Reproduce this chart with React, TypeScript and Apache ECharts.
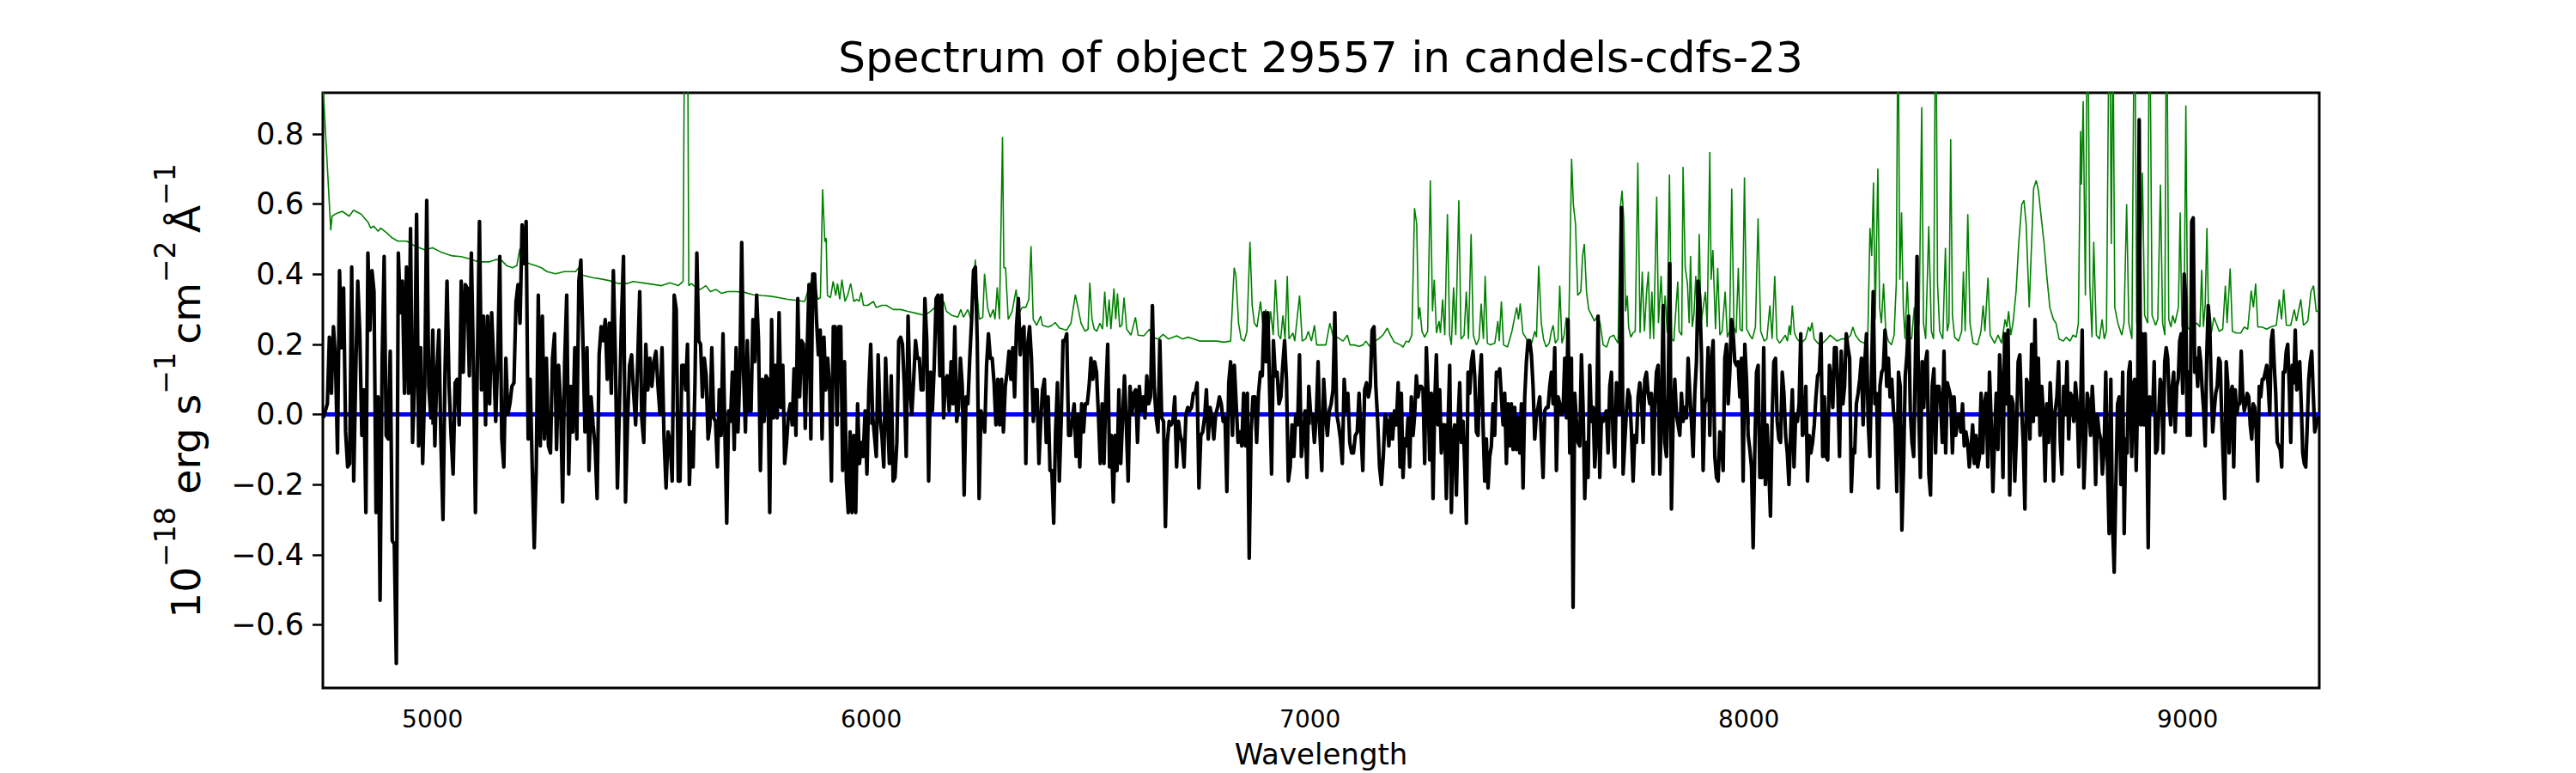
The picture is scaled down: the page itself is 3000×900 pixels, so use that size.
import React, { useEffect, useRef } from "react";
import * as echarts from "echarts";

// ---- Data ----
const titleText = "Spectrum of object 29557 in candels-cdfs-23";
const xTicks = [5000, 6000, 7000, 8000, 9000];
const yTicks = [-0.6, -0.4, -0.2, 0, 0.2, 0.4, 0.6, 0.8];
const xRange = [4750, 9300];
const yRange = [-0.78, 0.917];

// wavelength span of each stretch of the (regularly sampled) flux spectrum
const segWave = [
  [4751, 5560],
  [5564, 6382],
  [6386, 7205],
  [7208, 8025],
  [8030, 8848],
  [8852, 9300],
];

const fluxSeg1 = [
  -0.01, 0.01, 0.03, 0.22, 0.06, 0.25, 0.16, -0.11, 0.41, 0.19,
  0.36, -0.05, -0.15, -0.14, 0.42, -0.19, 0.12, 0.38, 0.23, -0.06,
  0.07, -0.28, 0.46, 0.24, 0.41, 0.35, -0.28, 0.05, -0.53, 0.15,
  0.45, -0.06, -0.07, 0.18, -0.36, -0.37, -0.71, 0.46, 0.29, 0.38,
  0.06, 0.42, 0.06, 0.53, -0.08, 0.09, 0.57, -0.09, 0.19, -0.14,
  0.08, 0.61, 0.08, -0.01, 0.24, -0.09, 0.12, 0.24, -0.08, -0.3,
  0.12, 0.38, 0.08, -0.06, -0.17, 0.09, 0.1, -0.03, 0.38, 0.12,
  0.37, 0.36, 0.11, 0.46, 0.15, -0.28, 0.17, 0.55, 0.07, 0.28,
  -0.03, 0.28, 0.03, 0.29, 0.15, -0.02, 0.16, 0.45, -0.07, -0.15,
  0.16, 0.0, 0.03, 0.08, 0.09, 0.32, 0.37, 0.26, 0.54, 0.43,
  0.55, -0.07, 0.1, -0.15, -0.38, -0.15, 0.34, -0.09, 0.28, -0.07,
  0.16, -0.09, -0.11, 0.16, 0.23, -0.1, 0.14, 0.03, -0.25, 0.15,
  0.34, -0.17, 0.08, -0.05, 0.19, -0.07, 0.38, 0.44, 0.21, -0.05,
  0.19, -0.16, 0.05, -0.03, -0.09, -0.24, 0.17, 0.25, 0.21, 0.27,
  0.1, 0.26, 0.06, 0.41, 0.16, -0.21, 0.02, 0.27, 0.45, -0.25,
  -0.02, 0.14, 0.17, 0.06, -0.03, 0.15, 0.35, -0.01, -0.08, 0.2,
  0.07, 0.16, 0.08, 0.15, 0.18, 0.08, 0.0, 0.19, -0.07, -0.21,
  -0.05, -0.08, -0.19, 0.34, 0.3, -0.19,
];

const fluxSeg2 = [
  -0.19, 0.14, 0.14, 0.07, 0.2, -0.2, -0.05, -0.15, 0.09, 0.46,
  0.21, 0.2, 0.05, 0.16, 0.11, -0.07, -0.03, 0.19, -0.01, -0.02,
  -0.15, 0.07, -0.06, 0.23, -0.05, -0.31, 0.01, -0.02, 0.12, -0.1,
  0.19, -0.05, 0.12, 0.49, 0.12, -0.05, 0.21, 0.01, 0.01, 0.27,
  0.15, 0.34, 0.21, -0.16, 0.1, -0.02, 0.11, 0.1, -0.28, 0.27,
  -0.01, 0.14, -0.01, 0.29, 0.02, 0.14, -0.14, -0.08, 0.0, 0.03,
  -0.03, 0.13, -0.06, 0.33, 0.05, 0.21, 0.2, -0.04, 0.18, 0.37,
  -0.07, 0.4, 0.4, 0.27, 0.17, 0.24, -0.07, 0.22, 0.07, 0.16,
  0.08, -0.19, 0.25, 0.25, -0.03, 0.25, 0.25, -0.16, 0.15, -0.19,
  -0.28, -0.05, -0.28, -0.06, -0.28, 0.03, -0.14, -0.08, -0.12, 0.01,
  -0.17, 0.07, 0.2, 0.0, -0.06, -0.12, 0.17, -0.01, -0.06, -0.15,
  0.16, -0.01, -0.14, 0.11, -0.19, -0.18, -0.08, 0.21, 0.22, 0.2,
  0.08, -0.12, 0.28, 0.07, 0.0, 0.1, 0.21, 0.16, 0.16, 0.07,
  0.07, 0.33, 0.21, -0.19, 0.12, 0.01, 0.14, 0.33, 0.34, 0.11,
  0.34, -0.01, 0.1, 0.11, 0.01, 0.15, 0.03, 0.25, -0.02, 0.02,
  0.16, 0.08, -0.23, 0.05, 0.03, 0.16, 0.27, 0.41, 0.42, 0.21,
  -0.24, 0.01, -0.01, -0.05, 0.14, 0.23, 0.16, 0.16, 0.09, -0.03,
  0.1, -0.03, 0.1, -0.05, 0.08, 0.12, 0.18, 0.1, 0.19, 0.05,
  0.25, 0.33, 0.17, 0.24, 0.25, -0.14, 0.2, 0.25, 0.16, -0.02,
  0.07, 0.07, -0.14,
];

const fluxSeg3 = [
  -0.02, 0.07, 0.1, -0.08, 0.05, -0.16, -0.16, -0.31, -0.05, 0.09,
  -0.19, -0.02, 0.21, 0.21, 0.23, -0.06, -0.06, -0.01, 0.03, -0.12,
  0.0, -0.15, 0.03, -0.05, 0.03, 0.03, 0.08, 0.16, 0.1, 0.15,
  0.12, 0.0, -0.14, 0.03, -0.14, 0.06, 0.2, -0.15, -0.06, -0.25,
  -0.06, -0.16, 0.07, -0.14, -0.01, 0.11, -0.03, -0.19, 0.08, 0.0,
  0.06, 0.07, -0.08, 0.08, 0.01, 0.05, -0.01, 0.11, 0.03, 0.05,
  0.31, 0.08, -0.01, -0.05, 0.21, -0.01, -0.02, -0.32, -0.08, -0.02,
  -0.03, -0.02, 0.05, -0.15, -0.02, -0.06, -0.08, -0.15, 0.0, 0.02,
  0.01, 0.02, 0.06, 0.06, 0.09, -0.21, -0.06, -0.05, -0.01, 0.07,
  -0.07, 0.02, -0.01, -0.07, 0.0, 0.02, 0.05, 0.03, -0.02, -0.01,
  -0.22, 0.09, 0.15, -0.06, 0.14, 0.03, -0.08, -0.05, -0.09, 0.06,
  -0.09, 0.06, -0.41, -0.05, 0.05, 0.05, -0.08, 0.06, 0.12, 0.11,
  0.29, 0.15, 0.29, 0.06, -0.17, 0.21, 0.11, 0.12, 0.03, 0.05,
  0.14, 0.21, 0.1, -0.19, -0.15, -0.03, -0.12, 0.0, -0.03, 0.17,
  -0.12, -0.07, 0.01, -0.18, 0.08, 0.0, 0.0, -0.08, -0.01, 0.15,
  -0.06, -0.16, 0.1, 0.0, -0.06, 0.01, 0.03, 0.07, 0.29, 0.0,
  -0.03, -0.07, -0.14, 0.1, 0.01, 0.06, -0.08, -0.11, -0.11, -0.06,
  -0.05, 0.06, -0.05, -0.16, 0.07, 0.09, 0.05, 0.08, 0.24, 0.25,
  0.08, -0.02, -0.15, -0.2, -0.12, 0.0, -0.02, -0.09, 0.0, -0.07,
  0.01, -0.03, 0.09, -0.15,
];

const fluxSeg4 = [
  0.06, -0.18, -0.07, -0.09, -0.01, -0.15, 0.05, -0.06, 0.0, 0.11,
  0.05, 0.08, 0.08, 0.07, -0.14, 0.19, 0.06, -0.13, 0.06, -0.24,
  0.03, 0.17, -0.03, 0.07, -0.11, -0.03, -0.03, -0.24, -0.03, 0.14,
  -0.28, -0.06, -0.03, -0.23, -0.02, 0.09, -0.08, -0.02, -0.14, -0.31,
  0.12, 0.06, 0.15, 0.18, 0.11, -0.05, -0.06, 0.1, 0.17, -0.03,
  -0.19, -0.07, -0.21, -0.12, -0.09, 0.03, -0.06, 0.12, 0.11, 0.13,
  0.05, -0.03, 0.06, -0.14, 0.03, -0.09, 0.03, -0.1, 0.02, -0.1,
  -0.01, -0.11, 0.03, -0.21, 0.05, 0.15, 0.21, 0.21, 0.17, 0.08,
  -0.07, 0.0, 0.02, 0.05, -0.07, -0.18, 0.01, 0.02, 0.02, 0.08,
  0.12, 0.03, 0.19, -0.16, 0.05, 0.03, 0.0, 0.01, 0.16, -0.01,
  0.27, -0.11, 0.16, -0.55, 0.06, -0.02, -0.08, -0.09, 0.17, 0.02,
  -0.24, -0.08, -0.18, 0.14, -0.02, 0.02, -0.15, -0.06, 0.28, -0.18,
  -0.01, -0.02, 0.0, 0.01, -0.11, 0.08, 0.12, -0.07, -0.15, 0.09,
  0.03, 0.0, 0.59, -0.17, -0.08, 0.01, 0.07, 0.05, -0.05, -0.19,
  -0.06, -0.08, 0.05, 0.09, 0.05, -0.08, 0.1, 0.12, 0.06, 0.03,
  0.06, -0.17, 0.02, 0.12, 0.14, -0.17, -0.01, 0.31, -0.08, -0.12,
  0.06, 0.43, -0.27, -0.01, 0.1, 0.0, -0.03, -0.06, 0.06, -0.02,
  0.02, -0.01, 0.16, 0.06, -0.02, -0.12, 0.06, 0.15, 0.38, 0.33,
  0.17, -0.16, 0.03, 0.05, 0.19, -0.06, 0.15, 0.21, -0.12, -0.18,
  -0.19, -0.05, -0.08, -0.16, 0.16, 0.2, 0.03, 0.12, 0.27, 0.23,
  0.15, 0.14, 0.15, 0.05, 0.16, -0.19, 0.2, 0.1, -0.06, -0.1,
  -0.15, -0.38, -0.1, 0.12, 0.14, -0.18,
];

const fluxSeg5 = [
  -0.18, 0.19, -0.2, -0.03, -0.15, -0.29, -0.01, 0.15, 0.16, -0.02,
  -0.07, -0.08, 0.12, 0.06, -0.06, -0.11, -0.2, -0.05, 0.07, -0.15,
  0.0, -0.02, 0.03, 0.23, -0.06, -0.05, 0.08, -0.19, -0.06, -0.11,
  -0.08, -0.03, 0.05, 0.11, 0.12, 0.23, -0.12, 0.05, -0.12, -0.13,
  0.14, 0.1, 0.02, 0.19, 0.19, 0.07, -0.12, 0.18, 0.03, 0.08,
  0.23, 0.19, 0.16, -0.22, -0.1, -0.11, 0.03, 0.06, 0.1, 0.16,
  -0.03, 0.15, 0.23, -0.02, -0.12, 0.12, 0.35, 0.03, 0.06, -0.21,
  0.08, 0.12, 0.13, 0.24, 0.08, 0.16, 0.05, 0.1, 0.01, -0.03,
  -0.22, 0.12, 0.08, -0.33, -0.15, 0.11, 0.17, 0.28, 0.01, -0.08,
  -0.12, 0.15, 0.45, 0.01, -0.18, 0.15, 0.02, 0.15, 0.18, -0.17,
  -0.23, 0.08, 0.13, -0.11, 0.08, 0.08, 0.03, -0.08, 0.18, -0.11,
  0.09, 0.07, 0.05, -0.11, 0.05, -0.06, -0.02, 0.0, -0.05, 0.03,
  -0.09, -0.05, -0.08, -0.15, -0.1, -0.03, -0.14, -0.06, -0.15, -0.12,
  0.06, -0.11, 0.03, 0.06, -0.15, 0.12, -0.02, -0.22, -0.07, 0.06,
  -0.1, 0.17, 0.08, -0.18, 0.23, 0.03, 0.24, -0.23, 0.05, 0.03,
  -0.19, -0.06, 0.15, 0.17, 0.02, -0.08, -0.27, 0.1, 0.08, -0.07,
  0.2, -0.02, 0.27, 0.0, 0.16, -0.06, 0.08, 0.0, -0.19, 0.03,
  -0.08, 0.09, -0.01, -0.19, 0.01, 0.05, 0.15, -0.08, -0.17, 0.08,
  0.0, 0.15, -0.07, 0.06, 0.05, -0.02, 0.09, 0.03, -0.15, 0.01,
  0.24, -0.21, -0.08, 0.06, 0.03, -0.06, 0.08, -0.01, -0.2, 0.0,
  -0.05, -0.07, -0.17, -0.1, 0.12, -0.14, -0.34, 0.1, -0.31, -0.45,
  -0.2, 0.03, 0.05, -0.2,
];

const fluxSeg6 = [
  0.12, -0.34, -0.07, -0.11, 0.12, 0.15, -0.12, 0.08, 0.1, -0.16,
  0.06, 0.84, -0.03, 0.23, -0.03, 0.23, -0.01, -0.38, 0.05, 0.02,
  0.01, 0.15, -0.11, -0.1, 0.0, 0.1, 0.08, -0.11, 0.15, 0.19,
  0.16, 0.03, -0.03, 0.08, 0.12, -0.05, 0.08, 0.1, 0.21, 0.23,
  0.06, 0.4, 0.33, -0.06, 0.12, -0.06, 0.55, 0.56, 0.12, 0.16,
  0.08, 0.19, 0.15, 0.07, 0.01, -0.09, 0.16, 0.31, 0.26, 0.08,
  -0.05, 0.01, 0.06, 0.08, 0.16, 0.15, -0.01, -0.13, -0.24, 0.15,
  0.09, -0.11, 0.06, 0.08, -0.15, 0.07, 0.0, 0.03, 0.03, 0.18,
  0.06, 0.01, 0.03, 0.06, 0.05, -0.03, -0.07, 0.03, 0.02, -0.05,
  -0.19, 0.08, 0.05, 0.1, 0.1, 0.12, 0.14, 0.08, 0.0, 0.21,
  0.24, 0.14, 0.06, -0.08, -0.09, -0.1, -0.15, 0.12, 0.12, 0.18,
  0.2, 0.08, -0.08, 0.14, 0.09, 0.24, 0.07, 0.08, 0.15, 0.03,
  -0.11, -0.14, -0.15, -0.03, 0.1, 0.15, 0.18, 0.06, -0.05, -0.03,
  -0.01, -0.01,
];

// noise / sky spectrum as [wavelength, value]
const noiseBlue = [
  [4750, 0.93], [4752, 0.9], [4768, 0.525], [4771, 0.565], [4778, 0.571], [4794, 0.579],
  [4810, 0.565], [4820, 0.582], [4837, 0.571], [4853, 0.548], [4859, 0.531], [4866, 0.537],
  [4876, 0.522], [4882, 0.531], [4895, 0.518], [4908, 0.503], [4921, 0.494], [4941, 0.494],
  [4960, 0.48], [4983, 0.469], [5000, 0.475], [5019, 0.463], [5045, 0.452], [5065, 0.45],
  [5085, 0.443], [5104, 0.435], [5130, 0.435], [5143, 0.441], [5156, 0.441], [5169, 0.424],
  [5182, 0.418], [5192, 0.424], [5199, 0.472], [5203, 0.441], [5222, 0.429], [5235, 0.424],
  [5248, 0.418], [5261, 0.407], [5280, 0.401], [5300, 0.407], [5326, 0.407], [5333, 0.418],
  [5339, 0.398], [5365, 0.39], [5385, 0.386], [5404, 0.381], [5424, 0.373], [5443, 0.373],
  [5457, 0.379], [5489, 0.373], [5522, 0.367], [5541, 0.375], [5560, 0.367],
];

const noiseGreen = [
  [5571, 0.379], [5576, 1.5], [5580, 1.5], [5584, 0.367], [5590, 0.373], [5600, 0.362],
  [5610, 0.356], [5623, 0.367], [5633, 0.35], [5646, 0.356], [5659, 0.345], [5672, 0.35],
  [5692, 0.35], [5711, 0.348], [5731, 0.341], [5750, 0.339], [5770, 0.337], [5789, 0.333],
  [5809, 0.328], [5829, 0.325], [5848, 0.322], [5868, 0.401], [5878, 0.328], [5884, 0.333],
  [5889, 0.642], [5894, 0.492], [5897, 0.503], [5900, 0.339], [5907, 0.333], [5913, 0.379],
  [5919, 0.339], [5923, 0.373], [5928, 0.328], [5933, 0.384], [5940, 0.322], [5946, 0.339],
  [5953, 0.373], [5960, 0.322], [5967, 0.328], [5972, 0.322], [5977, 0.348], [5982, 0.311],
  [5992, 0.311], [6005, 0.322], [6011, 0.305], [6024, 0.311], [6034, 0.311], [6050, 0.299],
  [6067, 0.299], [6083, 0.294], [6103, 0.288], [6122, 0.282], [6135, 0.294], [6145, 0.305],
  [6155, 0.294], [6165, 0.322], [6171, 0.294], [6184, 0.282], [6197, 0.277], [6204, 0.299],
  [6210, 0.277], [6220, 0.299], [6228, 0.266], [6237, 0.441], [6241, 0.35], [6246, 0.271],
  [6254, 0.277], [6258, 0.401], [6265, 0.305], [6271, 0.277], [6278, 0.299], [6282, 0.271],
  [6287, 0.362], [6292, 0.271], [6299, 0.791], [6302, 0.418], [6306, 0.418], [6312, 0.271],
  [6321, 0.294], [6330, 0.356], [6336, 0.288], [6344, 0.305], [6352, 0.305], [6359, 0.328],
  [6364, 0.48], [6369, 0.271], [6377, 0.254],
];

const noiseYellow = [
  [6386, 0.28], [6390, 0.254], [6403, 0.249], [6412, 0.254], [6419, 0.262], [6429, 0.246],
  [6445, 0.24], [6455, 0.26], [6465, 0.341], [6471, 0.305], [6478, 0.26], [6487, 0.237],
  [6494, 0.243], [6498, 0.376], [6503, 0.271], [6508, 0.243], [6514, 0.237], [6521, 0.26],
  [6527, 0.243], [6532, 0.35], [6537, 0.249], [6542, 0.328], [6546, 0.243], [6553, 0.359],
  [6557, 0.271], [6561, 0.345], [6566, 0.249], [6571, 0.254], [6576, 0.333], [6582, 0.243],
  [6592, 0.226], [6602, 0.277], [6608, 0.226], [6621, 0.224], [6630, 0.237], [6634, 0.243],
  [6641, 0.22], [6654, 0.215], [6665, 0.228], [6677, 0.215], [6696, 0.224], [6709, 0.215],
  [6722, 0.22], [6735, 0.215], [6748, 0.209], [6768, 0.209], [6788, 0.209], [6804, 0.206],
  [6819, 0.209], [6827, 0.418], [6831, 0.395], [6837, 0.26], [6843, 0.215], [6850, 0.209],
  [6856, 0.237], [6863, 0.492], [6868, 0.311], [6873, 0.26], [6879, 0.249], [6887, 0.322],
  [6892, 0.26], [6899, 0.299], [6905, 0.232], [6910, 0.294], [6916, 0.226], [6921, 0.384],
  [6928, 0.226], [6933, 0.215], [6938, 0.282], [6943, 0.215], [6948, 0.395], [6952, 0.215],
  [6961, 0.232], [6965, 0.209], [6976, 0.339], [6982, 0.209], [6990, 0.215], [6996, 0.237],
  [7003, 0.209], [7010, 0.254], [7015, 0.198], [7026, 0.198], [7036, 0.198], [7045, 0.26],
  [7054, 0.215], [7062, 0.22], [7075, 0.209], [7085, 0.226], [7091, 0.198], [7101, 0.198],
  [7111, 0.194], [7121, 0.198], [7127, 0.209], [7137, 0.192], [7147, 0.209], [7156, 0.215],
  [7166, 0.226], [7176, 0.246], [7183, 0.226], [7192, 0.206],
];

const noiseRed = [
  [7206, 0.198], [7212, 0.192], [7219, 0.209], [7225, 0.206], [7232, 0.226], [7238, 0.588],
  [7243, 0.542], [7247, 0.271], [7250, 0.305], [7255, 0.237], [7261, 0.22], [7268, 0.237],
  [7274, 0.667], [7279, 0.294], [7283, 0.384], [7288, 0.232], [7294, 0.266], [7297, 0.232],
  [7302, 0.328], [7307, 0.226], [7313, 0.571], [7318, 0.226], [7322, 0.198], [7327, 0.362],
  [7332, 0.226], [7339, 0.61], [7344, 0.215], [7351, 0.226], [7356, 0.35], [7361, 0.215],
  [7367, 0.514], [7372, 0.226], [7379, 0.198], [7385, 0.215], [7390, 0.316], [7395, 0.215],
  [7399, 0.395], [7404, 0.203], [7411, 0.198], [7421, 0.203], [7428, 0.266], [7431, 0.209],
  [7436, 0.322], [7441, 0.198], [7450, 0.192], [7460, 0.237], [7467, 0.282], [7471, 0.305],
  [7475, 0.271], [7479, 0.316], [7485, 0.232], [7491, 0.22], [7498, 0.203], [7505, 0.203],
  [7512, 0.237], [7516, 0.22], [7521, 0.424], [7527, 0.26], [7532, 0.215], [7538, 0.192],
  [7545, 0.203], [7550, 0.237], [7554, 0.254], [7559, 0.203], [7565, 0.215], [7569, 0.367],
  [7574, 0.203], [7579, 0.226], [7584, 0.277], [7589, 0.203], [7596, 0.729], [7600, 0.599],
  [7605, 0.542], [7610, 0.339], [7617, 0.35], [7621, 0.452], [7625, 0.486], [7630, 0.35],
  [7635, 0.299], [7642, 0.282], [7648, 0.266], [7655, 0.282], [7661, 0.26], [7668, 0.198],
  [7676, 0.192], [7683, 0.22], [7692, 0.226], [7696, 0.215], [7702, 0.203], [7707, 0.588],
  [7711, 0.638], [7715, 0.554], [7719, 0.294], [7723, 0.339], [7726, 0.249], [7731, 0.22],
  [7736, 0.232], [7741, 0.237], [7747, 0.718], [7752, 0.232], [7757, 0.407], [7762, 0.237],
  [7767, 0.35], [7771, 0.407], [7775, 0.215], [7779, 0.35], [7783, 0.215], [7790, 0.621],
  [7794, 0.26], [7800, 0.395], [7805, 0.232], [7809, 0.339], [7814, 0.232], [7819, 0.684],
  [7824, 0.215], [7829, 0.209], [7834, 0.305], [7838, 0.379], [7841, 0.237], [7847, 0.226],
  [7850, 0.706], [7855, 0.418], [7860, 0.373], [7864, 0.26], [7867, 0.452], [7871, 0.249],
  [7875, 0.288], [7879, 0.395], [7883, 0.26], [7887, 0.514], [7891, 0.26], [7896, 0.305],
  [7901, 0.35], [7905, 0.249], [7911, 0.748], [7914, 0.384], [7918, 0.469], [7924, 0.243],
  [7929, 0.418], [7934, 0.226], [7939, 0.237], [7946, 0.35], [7951, 0.22], [7956, 0.237],
  [7961, 0.644], [7966, 0.249], [7971, 0.232], [7976, 0.418], [7980, 0.243], [7985, 0.237],
  [7990, 0.676], [7995, 0.243], [8002, 0.226], [8008, 0.215], [8015, 0.249], [8021, 0.559],
  [8027, 0.237],
];

const noiseInfrared = [
  [8035, 0.209], [8041, 0.215], [8048, 0.311], [8053, 0.215], [8059, 0.395], [8064, 0.215],
  [8070, 0.203], [8077, 0.215], [8083, 0.226], [8088, 0.209], [8092, 0.254], [8095, 0.226],
  [8099, 0.311], [8104, 0.232], [8110, 0.215], [8119, 0.203], [8129, 0.215], [8136, 0.249],
  [8140, 0.237], [8144, 0.262], [8149, 0.215], [8159, 0.201], [8168, 0.203], [8178, 0.215],
  [8185, 0.226], [8191, 0.22], [8201, 0.209], [8211, 0.215], [8224, 0.215], [8232, 0.226],
  [8237, 0.249], [8243, 0.226], [8253, 0.209], [8263, 0.203], [8271, 0.215], [8276, 0.531],
  [8280, 0.452], [8284, 0.661], [8288, 0.271], [8294, 0.701], [8298, 0.305], [8302, 0.26],
  [8307, 0.373], [8312, 0.237], [8318, 0.209], [8325, 0.198], [8331, 0.226], [8336, 0.373],
  [8340, 1.2], [8344, 0.384], [8348, 0.576], [8352, 0.305], [8356, 0.215], [8361, 0.379],
  [8366, 0.22], [8371, 0.215], [8377, 0.305], [8382, 0.215], [8388, 0.26], [8394, 0.876],
  [8398, 0.26], [8403, 0.215], [8410, 0.537], [8416, 0.237], [8421, 0.215], [8426, 1.3],
  [8430, 0.373], [8435, 0.237], [8442, 0.215], [8448, 0.475], [8452, 0.237], [8456, 0.26],
  [8460, 0.785], [8464, 0.282], [8469, 0.22], [8478, 0.209], [8485, 0.237], [8489, 0.407],
  [8493, 0.237], [8499, 0.571], [8504, 0.26], [8511, 0.203], [8521, 0.198], [8529, 0.237],
  [8534, 0.311], [8538, 0.237], [8545, 0.39], [8550, 0.226], [8560, 0.203], [8568, 0.226],
  [8576, 0.203], [8584, 0.271], [8588, 0.249], [8592, 0.294], [8597, 0.226], [8602, 0.26],
  [8609, 0.35], [8615, 0.486], [8622, 0.599], [8627, 0.61], [8632, 0.542], [8639, 0.305],
  [8645, 0.508], [8649, 0.644], [8655, 0.667], [8660, 0.638], [8666, 0.565], [8673, 0.486],
  [8679, 0.395], [8686, 0.305], [8694, 0.271], [8700, 0.26], [8707, 0.215], [8717, 0.209],
  [8723, 0.22], [8732, 0.209], [8739, 0.226], [8746, 0.22], [8751, 0.26], [8756, 0.808],
  [8758, 0.655], [8762, 0.893], [8767, 0.339], [8772, 1.3], [8777, 0.373], [8782, 0.22],
  [8786, 0.492], [8792, 0.226], [8799, 0.215], [8805, 0.271], [8810, 0.215], [8815, 0.237],
  [8822, 1.3], [8826, 0.486], [8830, 1.1], [8834, 0.305], [8841, 0.26], [8847, 0.237],
];

const noiseFar = [
  [8850, 0.226], [8855, 0.26], [8861, 0.599], [8866, 0.26], [8873, 0.215], [8879, 1.3],
  [8884, 0.26], [8890, 0.26], [8897, 0.689], [8902, 0.282], [8909, 0.26], [8913, 1.3],
  [8919, 0.282], [8927, 0.254], [8932, 0.271], [8938, 0.655], [8943, 0.26], [8948, 0.226],
  [8952, 1.3], [8957, 0.271], [8962, 0.249], [8966, 0.282], [8971, 0.26], [8975, 0.282],
  [8979, 0.305], [8983, 0.576], [8987, 0.249], [8992, 0.282], [8996, 0.881], [9000, 0.249],
  [9007, 0.237], [9013, 0.254], [9021, 0.26], [9028, 0.249], [9032, 0.412], [9036, 0.249],
  [9040, 0.311], [9044, 0.531], [9048, 0.26], [9054, 0.232], [9060, 0.277], [9065, 0.26],
  [9072, 0.237], [9080, 0.243], [9086, 0.367], [9090, 0.26], [9097, 0.416], [9102, 0.237],
  [9111, 0.232], [9121, 0.232], [9129, 0.249], [9137, 0.243], [9145, 0.353], [9150, 0.305],
  [9155, 0.373], [9160, 0.249], [9170, 0.249], [9180, 0.243], [9189, 0.249], [9202, 0.254],
  [9209, 0.328], [9214, 0.271], [9219, 0.356], [9225, 0.254], [9235, 0.254], [9243, 0.299],
  [9248, 0.266], [9258, 0.328], [9264, 0.254], [9274, 0.266], [9281, 0.35], [9287, 0.367],
  [9293, 0.294], [9299, 0.294],
];

const zeroLevel = [
  [4750, 0],
  [9300, 0],
];

const FONT = "'DejaVu Sans', sans-serif";

function buildFlux(): number[][] {
  const segs = [fluxSeg1, fluxSeg2, fluxSeg3, fluxSeg4, fluxSeg5, fluxSeg6];
  const out: number[][] = [];
  segs.forEach((seg, k) => {
    const [w0, w1] = segWave[k];
    const step = (w1 - w0) / (seg.length - 1);
    seg.forEach((v, i) => out.push([w0 + i * step, v]));
  });
  return out;
}

export default function App() {
  const ref = useRef<HTMLDivElement>(null);

  useEffect(() => {
    if (!ref.current) return;
    const chart = echarts.init(ref.current, undefined, { renderer: "svg" });
    const noise = [
      ...noiseBlue,
      ...noiseGreen,
      ...noiseYellow,
      ...noiseRed,
      ...noiseInfrared,
      ...noiseFar,
    ];
    const fmtY = (v: number) => v.toFixed(1).replace("-", "\u2212");
    const fmtX = (v: number) => String(Math.round(v));

    chart.setOption({
      animation: false,
      backgroundColor: "#ffffff",
      grid: {
        left: 376,
        right: 299,
        top: 108,
        bottom: 97,
        show: true,
        borderColor: "#000",
        borderWidth: 3,
        backgroundColor: "transparent",
        containLabel: false,
      },
      xAxis: {
        type: "value",
        min: xRange[0],
        max: xRange[1],
        axisLine: { show: false },
        splitLine: { show: false },
        axisTick: {
          show: true,
          customValues: xTicks,
          length: 12,
          lineStyle: { color: "#000", width: 2.5 },
        },
        axisLabel: {
          customValues: xTicks,
          fontSize: 28,
          color: "#000",
          fontFamily: FONT,
          margin: 22,
          formatter: fmtX,
        },
        name: "Wavelength",
        nameLocation: "middle",
        nameGap: 60,
        nameTextStyle: { fontSize: 34, color: "#000", fontFamily: FONT },
      },
      yAxis: {
        type: "value",
        min: yRange[0],
        max: yRange[1],
        axisLine: { show: false },
        splitLine: { show: false },
        axisTick: {
          show: true,
          customValues: yTicks,
          length: 12,
          lineStyle: { color: "#000", width: 2.5 },
        },
        axisLabel: {
          customValues: yTicks,
          fontSize: 35,
          color: "#000",
          fontFamily: FONT,
          margin: 22,
          formatter: fmtY,
        },
      },
      graphic: [
        {
          type: "text",
          x: 1538,
          y: 67,
          style: {
            text: titleText,
            fontSize: 50,
            fontFamily: FONT,
            fill: "#000",
            textAlign: "center",
            textVerticalAlign: "middle",
            align: "center",
            verticalAlign: "middle",
          },
        },
        {
          type: "text",
          x: 208,
          y: 455,
          rotation: Math.PI / 2,
          style: {
            text:
              "{a|10}{s|\u221218}{a| erg s}{s|\u22121}{a|\u2009cm}{s|\u22122}{a|\u2009\u00c5}{s|\u22121}",
            fill: "#000",
            fontFamily: FONT,
            textAlign: "center",
            textVerticalAlign: "middle",
            align: "center",
            verticalAlign: "middle",
            rich: {
              a: { fontSize: 47, fontFamily: FONT, fill: "#000", lineHeight: 64, verticalAlign: "bottom" },
              s: { fontSize: 33, fontFamily: FONT, fill: "#000", lineHeight: 40, verticalAlign: "top" },
            },
          },
        },
      ],
      series: [
        {
          type: "line",
          name: "noise",
          data: noise,
          showSymbol: false,
          symbol: "none",
          clip: true,
          z: 1,
          lineStyle: { color: "#008000", width: 1.6 },
        },
        {
          type: "line",
          name: "zero",
          data: zeroLevel,
          showSymbol: false,
          symbol: "none",
          z: 2,
          lineStyle: { color: "#0000ff", width: 5 },
        },
        {
          type: "line",
          name: "flux",
          data: buildFlux(),
          showSymbol: false,
          symbol: "none",
          clip: true,
          z: 3,
          lineStyle: { color: "#000000", width: 4.2, join: "round" },
        },
      ],
    });
    return () => chart.dispose();
  }, []);

  return (
    <div
      ref={ref}
      style={{ position: "absolute", left: 0, top: 0, width: 3000, height: 900, background: "#fff" }}
    />
  );
}
